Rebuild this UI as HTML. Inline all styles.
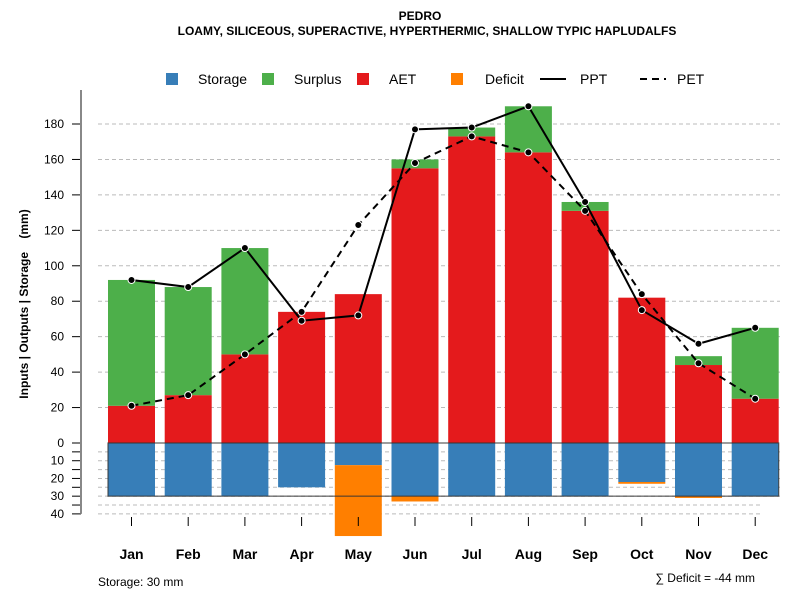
<!DOCTYPE html>
<html><head><meta charset="utf-8"><style>
body{margin:0;background:#fff;}
svg{font-family:"Liberation Sans",sans-serif;}
</style></head><body>
<svg id="c" width="800" height="600" xmlns="http://www.w3.org/2000/svg">
<text x="420" y="20" text-anchor="middle" font-size="12" font-weight="bold">PEDRO</text>
<text x="427" y="35" text-anchor="middle" font-size="12" font-weight="bold">LOAMY, SILICEOUS, SUPERACTIVE, HYPERTHERMIC, SHALLOW TYPIC HAPLUDALFS</text>
<g>
<rect x="166" y="73" width="12" height="12" fill="#377eb8"/>
<text x="198" y="84" font-size="14">Storage</text>
<rect x="262" y="73" width="12" height="12" fill="#4daf4a"/>
<text x="294" y="84" font-size="14">Surplus</text>
<rect x="357" y="73" width="12" height="12" fill="#e41a1c"/>
<text x="389" y="84" font-size="14">AET</text>
<rect x="451" y="73" width="12" height="12" fill="#ff7f00"/>
<text x="485" y="84" font-size="14">Deficit</text>
<line x1="540" y1="79" x2="566" y2="79" stroke="#000" stroke-width="2"/>
<text x="580" y="84" font-size="14">PPT</text>
<line x1="640" y1="79" x2="666" y2="79" stroke="#000" stroke-width="2" stroke-dasharray="7,5"/>
<text x="677" y="84" font-size="14">PET</text>
</g>
<text transform="translate(28,304) rotate(-90)" text-anchor="middle" font-size="12" font-weight="bold" style="white-space:pre">Inputs | Outputs | Storage    (mm)</text>
<text x="98" y="586" font-size="12">Storage: 30 mm</text>
<text x="755" y="582" text-anchor="end" font-size="12">∑ Deficit = -44 mm</text>
<g id="plot"></g>
</svg>
<script>
const months=["Jan","Feb","Mar","Apr","May","Jun","Jul","Aug","Sep","Oct","Nov","Dec"];
const aet=[21,27,50,74,84,155,173,164,131,82,44,25];
const surplus=[71,61,60,0,0,5,5,26,5,0,5,40];
const storage=[30,30,30,25,12.5,30,30,30,30,22,30,30];
const deficit=[0,0,0,0,40,3,0,0,0,1,1,0];
const ppt=[92,88,110,69,72,177,178,190,136,75,56,65];
const pet=[21,27,50,74,123,158,173,164,131,84,45,25];
const upTicks=[0,20,40,60,80,100,120,140,160,180];
const lowTicks=[10,20,30,40];
const NS="http://www.w3.org/2000/svg";
const g=document.getElementById('plot');
const y0=443,k=319/180;
const y=v=>y0-v*k, yd=v=>y0+v*k;
const x=i=>131.5+i*56.7;
const bw=47;
function mk(t,a,p){const e=document.createElementNS(NS,t);for(const q in a)e.setAttribute(q,a[q]);(p||g).appendChild(e);return e;}
upTicks.forEach(v=>{if(v>0){const l=mk('line',{x1:98,x2:780,y1:y(v),y2:y(v),stroke:'#bbb','stroke-dasharray':'4,3'});

}
const t=mk('line',{x1:72,x2:81,y1:y(v),y2:y(v),stroke:'#000'});


const tx=mk('text',{x:64,y:y(v)+4,'text-anchor':'end','font-size':12});tx.textContent=v;

});
for(let v=5;v<=40;v+=5){const l=mk('line',{x1:98,x2:v>30?760:780,y1:yd(v),y2:yd(v),stroke:'#bbb','stroke-dasharray':'4,3'});


const t=mk('line',{x1:72,x2:81,y1:yd(v),y2:yd(v),stroke:'#000'});

}
lowTicks.forEach(v=>{const tx=mk('text',{x:64,y:yd(v)+4,'text-anchor':'end','font-size':12});tx.textContent=v;

});
const ax=mk('line',{x1:81,x2:81,y1:90,y2:yd(40),stroke:'#888','stroke-width':2});


months.forEach((m,i)=>{
 const cx=x(i),l=cx-bw/2;
 const a=mk('rect',{x:l,y:y(aet[i]),width:bw,height:aet[i]*k,fill:'#e41a1c'});
 
 
 if(surplus[i]>0){const s=mk('rect',{x:l,y:y(aet[i]+surplus[i]),width:bw,height:surplus[i]*k,fill:'#4daf4a'});
 
 }
 const st=mk('rect',{x:l,y:y0,width:bw,height:storage[i]*k,fill:'#377eb8'});
 
 
 if(deficit[i]>0){const d=mk('rect',{x:l,y:yd(storage[i]),width:bw,height:deficit[i]*k,fill:'#ff7f00'});
 
 }
 const t=mk('line',{x1:cx,x2:cx,y1:517,y2:526,stroke:'#000'});
 
 
 const tx=mk('text',{x:cx,y:559,'text-anchor':'middle','font-size':14,'font-weight':'bold'});tx.textContent=m;
 
 
});
const box=mk('rect',{x:x(0)-bw/2,y:y0,width:x(11)+bw/2-(x(0)-bw/2),height:30*k,fill:'none',stroke:'#333','stroke-width':1.2,opacity:0.8});


function series(arr,name,dash){
 const p=mk('polyline',{points:arr.map((v,i)=>x(i)+','+y(v)).join(' '),fill:'none',stroke:'#000','stroke-width':2,'stroke-dasharray':dash});
 
 
 arr.forEach((v,i)=>{const c=mk('circle',{cx:x(i),cy:y(v),r:3.5,fill:'#000',stroke:'#fff','stroke-width':1});
 
 });
}
series(pet,'pet','7,5');
series(ppt,'ppt','none');
</script>
</body></html>
